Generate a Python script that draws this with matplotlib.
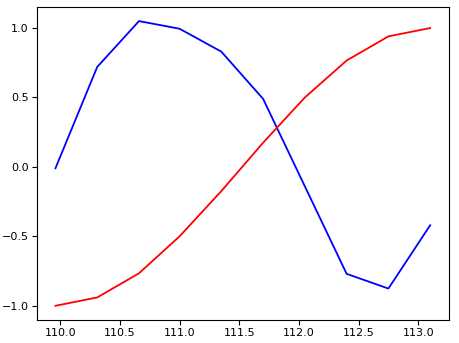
import matplotlib
matplotlib.use("Agg")
import matplotlib.pyplot as plt

# x runs over ten evenly spaced points
x = [109.96, 110.31, 110.66, 111.00, 111.35, 111.70, 112.05, 112.40, 112.75, 113.10]
red_vals = [-1.0, -0.94, -0.766, -0.5, -0.174, 0.174, 0.5, 0.766, 0.94, 1.0]
blue_vals = [-0.01, 0.72, 1.05, 0.995, 0.83, 0.49, -0.14, -0.77, -0.876, -0.42]

fig, ax = plt.subplots(figsize=(4.59, 3.43), dpi=100)
ax.plot(x, blue_vals, color='blue', linewidth=1.3)
ax.plot(x, red_vals, color='red', linewidth=1.3)
ax.set_xticks([110.0, 110.5, 111.0, 111.5, 112.0, 112.5, 113.0])
ax.set_yticks([-1.0, -0.5, 0.0, 0.5, 1.0])
ax.tick_params(labelsize=8, pad=2.5)

fig.subplots_adjust(left=0.08, right=0.978, top=0.98, bottom=0.067)
fig.savefig('out.png', dpi=100)
